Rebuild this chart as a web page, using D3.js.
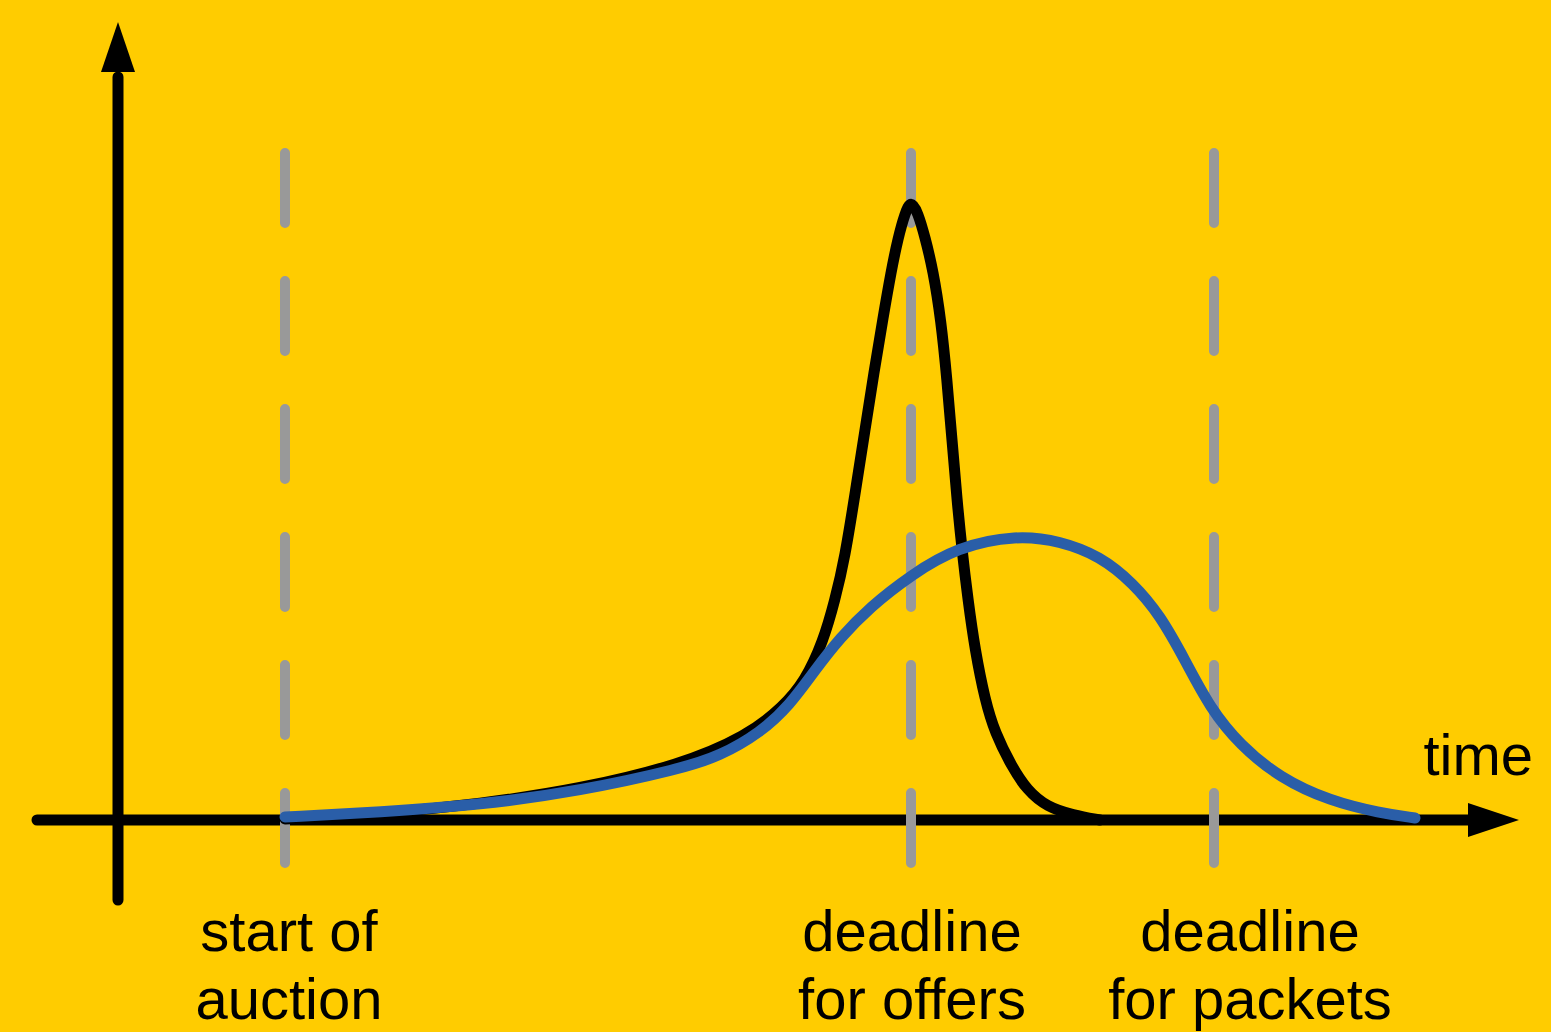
<html>
<head>
  <script src="https://d3js.org/d3.v7.min.js"></script>
  <style>
    body { margin: 0; background: #FFCC00; }
    text { font-family: "Liberation Sans", Arial, sans-serif; font-size: 58px; fill: #000; }
  </style>
</head>
<body>
  <svg id="chart" width="1551" height="1032"></svg>
  <script>
    // time (x) and level (y)
    const offersT = [16.7, 26.2, 36.2, 46.2, 56.2, 62.9, 66.5, 68.7, 70.5, 71.7, 72.7, 73.7, 74.7, 75.6, 76.5, 77.3, 78.0, 78.7, 79.3,
      80.0, 80.7, 81.5, 82.3, 82.9, 83.4, 83.9, 84.4, 85.0, 85.7, 86.7, 87.7, 89.4, 90.9, 92.9, 95.5, 98.2];
    const offersV = [0.1, 0.6, 1.6, 3.1, 5.5, 8.4, 11.3, 13.9, 17.8, 22.0, 26.3, 32.6, 39.0, 44.8, 50.2, 54.8, 58.2, 60.7, 62.0,
      60.7, 58.3, 55.0, 50.0, 44.0, 38.0, 32.0, 27.0, 22.0, 17.0, 12.0, 8.7, 5.3, 3.0, 1.3, 0.5, 0.0];

    const packetsT = [16.7, 26.2, 36.2, 46.2, 56.2, 60.2, 64.2, 67.2, 69.7, 72.2, 75.2, 79.3, 83.9, 89.9, 94.2, 98.2,
      101.5, 104.2, 106.7, 109.2, 112.2, 116.2, 121.2, 126.2, 129.7];
    const packetsV = [0.3, 0.8, 1.5, 2.9, 5.1, 6.4, 8.7, 11.5, 15.0, 18.2, 21.3, 24.5, 27.3, 28.5, 27.9, 26.4,
      23.7, 20.5, 16.0, 11.2, 7.5, 4.2, 1.9, 0.7, 0.2];

    const eventTimes = [16.7, 79.3, 109.6];
    const eventLabels = [["start of", "auction"], ["deadline", "for offers"], ["deadline", "for packets"]];
    const labelTimes = [17.1, 79.4, 113.2];
    const axisLabel = "time";

    const svg = d3.select("svg#chart");
    const x = d3.scaleLinear().domain([0, 140]).range([118, 1518]);
    const y = d3.scaleLinear().domain([0, 62]).range([820, 200]);

    svg.append("rect").attr("width", 1551).attr("height", 1032).attr("fill", "#FFCC00");

    // axes with arrow heads
    svg.append("line")
      .attr("x1", x(-8.1)).attr("y1", y(0)).attr("x2", x(135.5)).attr("y2", y(0))
      .attr("stroke", "#000").attr("stroke-width", 11).attr("stroke-linecap", "round");
    svg.append("line")
      .attr("x1", x(0)).attr("y1", y(-8.0)).attr("x2", x(0)).attr("y2", y(74.3))
      .attr("stroke", "#000").attr("stroke-width", 11).attr("stroke-linecap", "round");
    svg.append("path")
      .attr("d", `M${x(135)},${y(0) - 17}L${x(140.1)},${y(0)}L${x(135)},${y(0) + 17}Z`)
      .attr("fill", "#000");
    svg.append("path")
      .attr("d", `M${x(0) - 17},${y(74.8)}L${x(0)},${y(79.8)}L${x(0) + 17},${y(74.8)}Z`)
      .attr("fill", "#000");

    // dashed event markers
    svg.append("g").selectAll("line").data(eventTimes).join("line")
      .attr("x1", d => x(d)).attr("x2", d => x(d))
      .attr("y1", y(66.7)).attr("y2", y(-4.5))
      .attr("stroke", "#999999").attr("stroke-width", 10)
      .attr("stroke-linecap", "round").attr("stroke-dasharray", "70,58");

    const line = d3.line().x(d => x(d[0])).y(d => y(d[1])).curve(d3.curveBasis);

    svg.append("path")
      .attr("d", line(d3.zip(offersT, offersV)))
      .attr("fill", "none").attr("stroke", "#000").attr("stroke-width", 11)
      .attr("stroke-linecap", "round").attr("stroke-linejoin", "round");

    svg.append("path")
      .attr("d", line(d3.zip(packetsT, packetsV)))
      .attr("fill", "none").attr("stroke", "#2A5EA8").attr("stroke-width", 11)
      .attr("stroke-linecap", "round").attr("stroke-linejoin", "round");

    // labels
    const lab = svg.append("g").selectAll("text").data(eventLabels).join("text")
      .attr("text-anchor", "middle")
      .attr("transform", (d, i) => `translate(${x(labelTimes[i])},951)`);
    lab.selectAll("tspan").data(d => d).join("tspan")
      .attr("x", 0).attr("y", (d, i) => i * 68)
      .text(d => d);

    svg.append("text")
      .attr("x", 1533).attr("y", 775).attr("text-anchor", "end")
      .text(axisLabel);
  </script>
</body>
</html>
